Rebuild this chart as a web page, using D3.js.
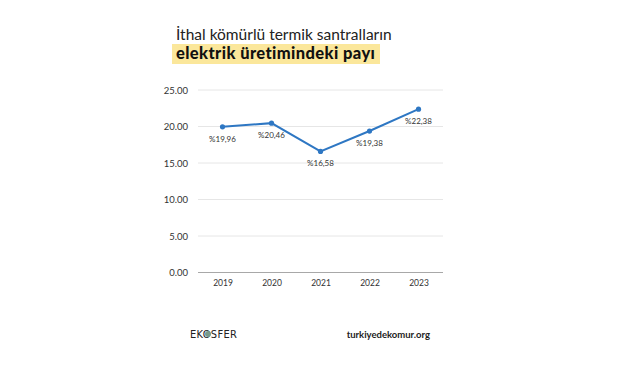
<!DOCTYPE html>
<html>
<head>
<meta charset="utf-8">
<script src="https://cdn.jsdelivr.net/npm/d3@7"></script>
<style>
  body { margin: 0; background: #fff; }
  svg { display: block; font-family: Lato, "Open Sans", sans-serif; }
</style>
</head>
<body>
<svg id="chart" width="641" height="381"></svg>
<script>
const years = ["2019", "2020", "2021", "2022", "2023"];
const shares = [19.96, 20.46, 16.58, 19.38, 22.38];
const shareLabels = ["%19,96", "%20,46", "%16,58", "%19,38", "%22,38"];
const yTicks = [0, 5, 10, 15, 20, 25];

const svg = d3.select("#chart");

// title
svg.append("rect")
  .attr("x", 172).attr("y", 44)
  .attr("width", 208).attr("height", 20)
  .attr("fill", "#fbe79b");
svg.append("text")
  .attr("x", 176).attr("y", 40)
  .attr("font-size", 15.5)
  .attr("fill", "#222")
  .text("İthal kömürlü termik santralların");
svg.append("text")
  .attr("x", 176).attr("y", 59)
  .attr("font-size", 16.5)
  .attr("font-weight", 900)
  .attr("letter-spacing", 0.4)
  .attr("fill", "#111")
  .text("elektrik üretimindeki payı");

const x = d3.scalePoint().domain(years).range([198, 443]).padding(0.5);
const y = d3.scaleLinear().domain([0, 25]).range([272.5, 90]);

// grid
svg.append("g")
  .selectAll("line")
  .data(yTicks)
  .join("line")
  .attr("x1", 198).attr("x2", 443)
  .attr("y1", d => y(d)).attr("y2", d => y(d))
  .attr("stroke", d => d === 0 ? "#a8a8a8" : "#e6e6e6")
  .attr("stroke-width", 1);

const yAxis = svg.append("g")
  .attr("transform", "translate(191,0)")
  .call(d3.axisLeft(y).tickValues(yTicks).tickSize(0).tickFormat(d3.format(".2f")));
yAxis.select(".domain").remove();
yAxis.selectAll("text")
  .attr("font-size", 9.5)
  .attr("fill", "#333")
  .attr("font-family", "Lato, sans-serif");

const xAxis = svg.append("g")
  .attr("transform", "translate(0,272.5)")
  .call(d3.axisBottom(x).tickSize(0).tickPadding(7));
xAxis.select(".domain").remove();
xAxis.selectAll("text")
  .attr("font-size", 8.5)
  .attr("fill", "#333")
  .attr("font-family", "Lato, sans-serif");

const pts = years.map((yr, i) => ({ yr, v: shares[i], lab: shareLabels[i] }));

svg.append("path")
  .datum(pts)
  .attr("fill", "none")
  .attr("stroke", "#2e77c3")
  .attr("stroke-width", 2)
  .attr("d", d3.line().x(d => x(d.yr)).y(d => y(d.v)));

svg.append("g")
  .selectAll("circle")
  .data(pts)
  .join("circle")
  .attr("cx", d => x(d.yr))
  .attr("cy", d => y(d.v))
  .attr("r", 2.6)
  .attr("fill", "#2e77c3");

svg.append("g")
  .selectAll("text")
  .data(pts)
  .join("text")
  .attr("x", d => x(d.yr))
  .attr("y", d => y(d.v) + 15)
  .attr("text-anchor", "middle")
  .attr("font-size", 8)
  .attr("fill", "#333")
  .text(d => d.lab);

// footer
svg.append("text")
  .attr("x", 190).attr("y", 338)
  .attr("font-size", 11)
  .attr("font-family", "'DejaVu Sans Condensed', sans-serif")
  .attr("fill", "#222")
  .attr("letter-spacing", 0.3)
  .text("EKOSFER");
svg.append("circle")
  .attr("cx", 208).attr("cy", 334)
  .attr("r", 3)
  .attr("fill", "#7a9a8a");
svg.append("text")
  .attr("x", 430).attr("y", 338)
  .attr("text-anchor", "end")
  .attr("font-size", 9.5)
  .attr("font-weight", "bold")
  .attr("fill", "#222")
  .text("turkiyedekomur.org");
</script>
</body>
</html>
